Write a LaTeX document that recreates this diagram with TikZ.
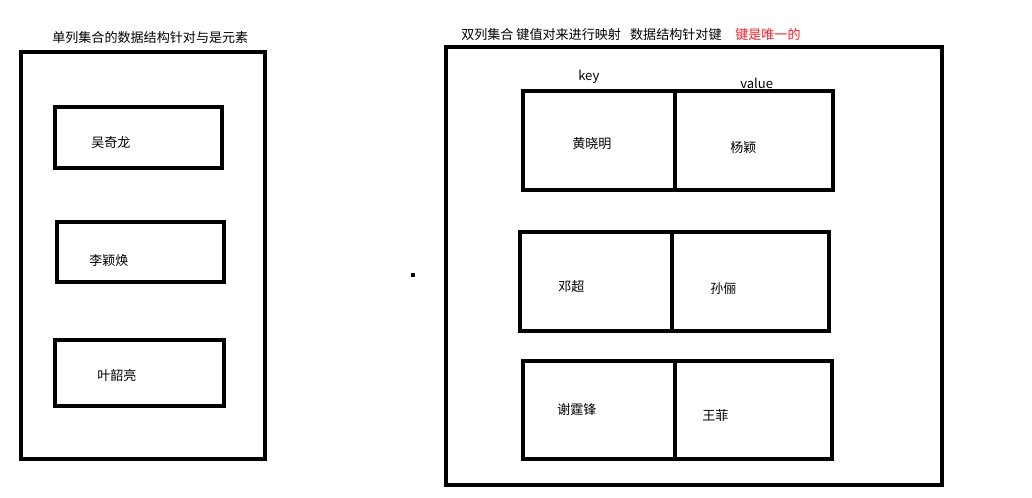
\documentclass[tikz,border=0pt]{standalone}
\usepackage{fontspec}
\setmainfont{Noto Sans CJK SC}
\usetikzlibrary{fit}
\definecolor{titlered}{RGB}{250,30,40}
\tikzset{
  box/.style={draw=black, line width=2.3pt, inner sep=0pt, fit={#1}},
  lbl/.style={anchor=west, inner sep=0pt, font=\fontsize{9.8}{11}\selectfont},
  ttl/.style={anchor=west, inner sep=0pt, font=\fontsize{9.8}{11}\selectfont},
}
\begin{document}
\begin{tikzpicture}[x=0.75pt,y=-0.75pt]
\useasboundingbox (0,0) rectangle (1032,498);
% left panel
\node[ttl] (ltitle) at (52,38) {单列集合的数据结构针对与是元素};
\node[box={(21,52) (265,459)}] (lpanel) {};
\node[box={(55,107) (222,168)}] (l1) {};
\node[box={(57,222) (224,282)}] (l2) {};
\node[box={(55,340) (224,406)}] (l3) {};
\node[lbl] (t1) at (91,143) {吴奇龙};
\node[lbl] (t2) at (89,261) {李颖焕};
\node[lbl] (t3) at (97,376) {叶韶亮};
% dot
\node[fill=black, inner sep=0pt, minimum width=2.5pt, minimum height=3pt] (dot) at (413,275) {};
% right panel
\node[ttl] (rtitle) at (461,35) {双列集合 键值对来进行映射\hspace{0.7em}数据结构针对键};
\node[ttl, text=titlered] (rtitle2) at (735,35) {键是唯一的};
\node[box={(446,47) (942,485)}] (rpanel) {};
\node[lbl] (keyl) at (578,77) {key};
\node[lbl] (vall) at (740,83) {value};
% row 1
\node[box={(523,91) (675,190)}] (k1) {};
\node[box={(675,91) (833,190)}] (v1) {};
\node[lbl] (k1t) at (572,144) {黄晓明};
\node[lbl] (v1t) at (730,148) {杨颖};
% row 2
\node[box={(520,232) (672,331)}] (k2) {};
\node[box={(672,232) (829,331)}] (v2) {};
\node[lbl] (k2t) at (558,287) {邓超};
\node[lbl] (v2t) at (710,289) {孙俪};
% row 3
\node[box={(523,361) (675,459)}] (k3) {};
\node[box={(675,361) (832,459)}] (v3) {};
\node[lbl] (k3t) at (557,410) {谢霆锋};
\node[lbl] (v3t) at (702,416) {王菲};
\end{tikzpicture}
\end{document}
